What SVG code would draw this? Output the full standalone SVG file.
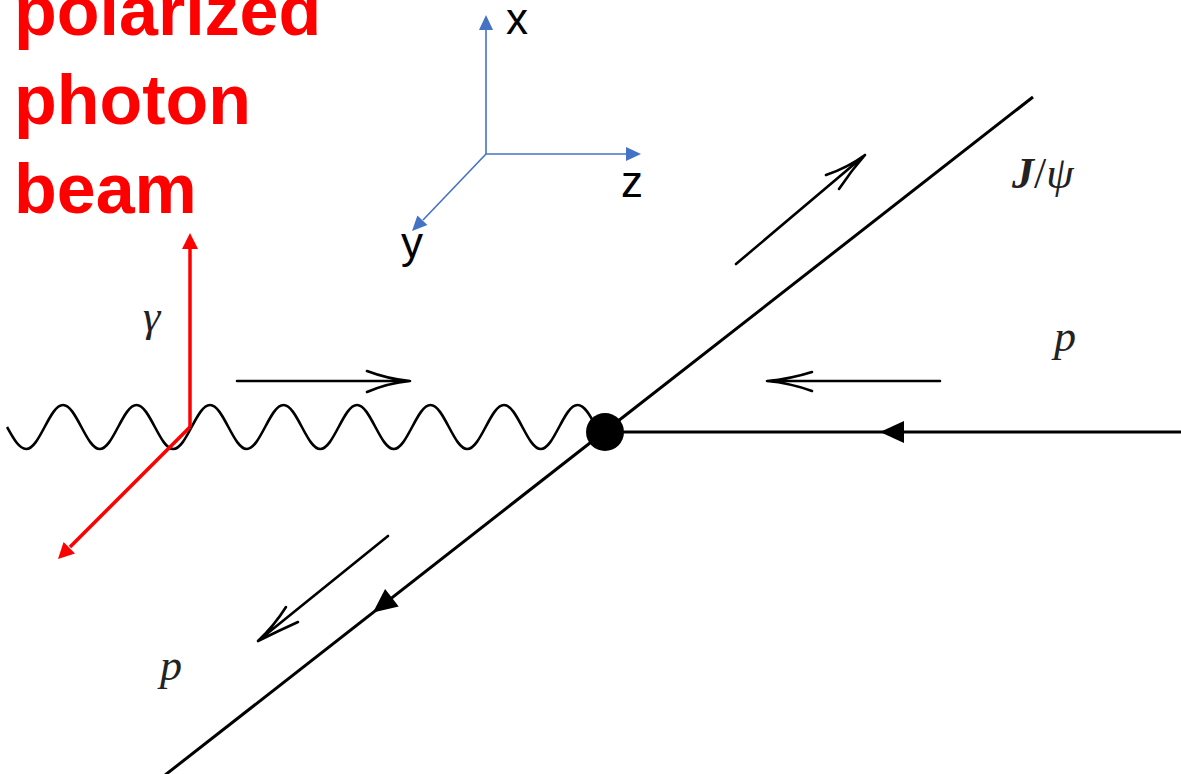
<svg xmlns="http://www.w3.org/2000/svg" width="1181" height="774" viewBox="0 0 1181 774">
<style>
.ln{stroke:#000;stroke-width:3;fill:none;stroke-linecap:butt}
.mom{stroke:#000;stroke-width:2.6;fill:none;stroke-linecap:round}
.ax{stroke:#4472C4;stroke-width:1.6;fill:none}
.axh{fill:#4472C4}
.red{stroke:#FF0000;stroke-width:3.5;fill:none}
.redh{fill:#FF0000}
.math{font-family:"Liberation Serif","DejaVu Serif",serif;font-style:italic;font-size:44px;fill:#222}
.axl{font-family:"Liberation Sans",Arial,sans-serif;font-size:44px;fill:#000}
.title{font-family:"Liberation Sans",Arial,sans-serif;font-weight:bold;font-size:70px;fill:#FF0000}
</style>
<rect width="1181" height="774" fill="#fff"/>
<g id="connectors">
  <path id="photon-wave" class="ln" style="stroke-width:2.6" d="M 7 427 C 13.4 438.5 19.1 449 26.25 449 C 39.63 449 49.62 405 63 405 S 86.37 449 99.75 449 S 123.12 405 136.5 405 S 159.87 449 173.25 449 S 196.62 405 210 405 S 233.37 449 246.75 449 S 270.12 405 283.5 405 S 306.87 449 320.25 449 S 343.62 405 357 405 S 380.37 449 393.75 449 S 417.12 405 430.5 405 S 453.87 449 467.25 449 S 490.62 405 504 405 S 527.37 449 540.75 449 S 564.12 405 577.5 405 C 584.6 405 590.4 415.5 596 427"/>
  <line id="jpsi-line" class="ln" x1="604" y1="432" x2="1033" y2="97"/>
  <line id="p-out-line" class="ln" x1="604" y1="432" x2="160" y2="779"/>
  <polygon points="373,612.5 398.7,606.4 385.1,589" fill="#000"/>
  <line id="p-in-line" class="ln" x1="604" y1="432" x2="1181" y2="432"/>
  <polygon points="880,432 904,421 904,443" fill="#000"/>
  <path class="mom" d="M 237 381 L 410 381 M 367 371 Q 388 379 410 381 Q 388 383 367 392"/>
  <path class="mom" d="M 940 381 L 767 381 M 812 372 Q 790 379 767 381 Q 790 383 812 391"/>
  <path class="mom" d="M 736 264 L 865 155 M 826 175 Q 847 168 865 155 Q 851 171 839 189"/>
  <path class="mom" d="M 388 536 L 258 641 M 286 607 Q 274 626 258 641 Q 278 631 298 622"/>
</g>
<g id="vertex">
  <circle cx="605" cy="432" r="19" fill="#000"/>
</g>
<g id="polarization">
  <line class="red" x1="190" y1="427" x2="190" y2="248"/>
  <polygon class="redh" points="190,233 182,249 198,249"/>
  <line class="red" x1="190" y1="427" x2="70" y2="547"/>
  <polygon class="redh" points="58,559 75,553.4 63.6,542"/>
</g>
<g id="axes">
  <line class="ax" x1="486" y1="154" x2="486" y2="29"/>
  <polygon class="axh" points="486,15 479,30 493,30"/>
  <line class="ax" x1="486" y1="154" x2="627" y2="154"/>
  <polygon class="axh" points="641,154 626,147 626,161"/>
  <line class="ax" x1="486" y1="154" x2="423" y2="220"/>
  <polygon class="axh" points="412,231 427.4,225.1 417.4,215.4"/>
  <text class="axl" x="506" y="34">x</text>
  <text class="axl" x="621" y="197">z</text>
  <text class="axl" x="401" y="258">y</text>
</g>
<g id="title">
  <text class="title" x="14" y="35">polarized</text>
  <text class="title" x="14" y="124">photon</text>
  <text class="title" x="14" y="213">beam</text>
</g>
<g id="labels">
  <text class="math" x="143" y="331">γ</text>
  <text class="math" x="1012" y="188" style="font-size:44px"><tspan font-weight="bold">J</tspan><tspan font-style="normal">/</tspan>ψ</text>
  <text class="math" x="1054" y="351">p</text>
  <text class="math" x="160" y="680">p</text>
</g>
</svg>
